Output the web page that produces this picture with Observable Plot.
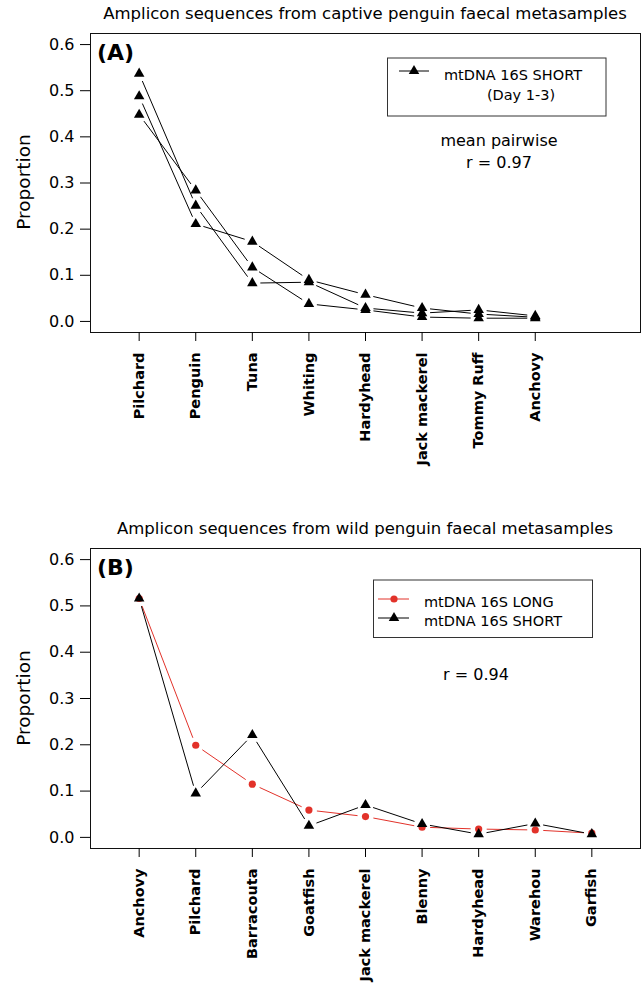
<!DOCTYPE html>
<html><head><meta charset="utf-8">
<script src="https://cdn.jsdelivr.net/npm/d3@7"></script>
<script src="https://cdn.jsdelivr.net/npm/@observablehq/plot@0.6"></script>
<style>
body{margin:0;background:#fff;font-family:"DejaVu Sans",sans-serif}
#chart svg{display:block;overflow:visible}
</style>
</head><body><div id="chart"></div>
<script>
// ---------- data ----------
const titleA = "Amplicon sequences from captive penguin faecal metasamples";
const titleB = "Amplicon sequences from wild penguin faecal metasamples";
const catsA = ["Pilchard","Penguin","Tuna","Whiting","Hardyhead","Jack mackerel","Tommy Ruff","Anchovy"];
const shortDay1 = [0.537, 0.251, 0.083, 0.085, 0.029, 0.018, 0.025, 0.012];
const shortDay2 = [0.488, 0.211, 0.173, 0.090, 0.058, 0.029, 0.016, 0.009];
const shortDay3 = [0.448, 0.284, 0.117, 0.038, 0.025, 0.0095, 0.007, 0.007];
const catsB = ["Anchovy","Pilchard","Barracouta","Goatfish","Jack mackerel","Blenny","Hardyhead","Warehou","Garfish"];
const longB  = [0.516, 0.199, 0.115, 0.059, 0.045, 0.022, 0.018, 0.016, 0.009];
const shortB = [0.516, 0.095, 0.221, 0.025, 0.070, 0.029, 0.007, 0.030, 0.007];
const yTicks = [0, 0.1, 0.2, 0.3, 0.4, 0.5, 0.6];
const rA = ["mean pairwise", "r = 0.97"];
const rB = ["r = 0.94"];

// ---------- layout ----------
const W = 643;
const xDomain = [0.14, 9.86];
const yDomain = [-0.024, 0.624];
const RED = "#e2322a";
const FONT = "DejaVu Sans";

function rows(vals, series) { return vals.map((v, k) => ({i: k + 1, v, series})); }
function gapped(vals, series, kx, ky, gap) {
  const out = [];
  for (let k = 0; k < vals.length - 1; k++) {
    const x1 = k + 1, x2 = k + 2, y1 = vals[k], y2 = vals[k + 1];
    const L = Math.hypot((x2 - x1) * kx, (y2 - y1) * ky);
    if (L <= 2 * gap) continue;
    const f = gap / L;
    out.push({series, x1: x1 + (x2 - x1) * f, y1: y1 + (y2 - y1) * f,
              x2: x2 - (x2 - x1) * f, y2: y2 - (y2 - y1) * f});
  }
  return out;
}

function panel({cats, height, mt, mb, seriesList}) {
  const ml = 90, mr = 3;
  const kx = (W - ml - mr) / (xDomain[1] - xDomain[0]);
  const ky = (height - mt - mb) / (yDomain[1] - yDomain[0]);
  const marks = [
    Plot.frame({stroke: "#111"}),
    Plot.axisY({ticks: yTicks, tickFormat: d3.format(".1f"), tickSize: 10, tickPadding: 6,
                fontSize: 16, label: null}),
    Plot.axisX({ticks: d3.range(1, cats.length + 1), tickFormat: i => cats[i - 1],
                tickRotate: -90, tickSize: 9, tickPadding: 11, fontSize: 14.5,
                fontWeight: "bold", label: null})
  ];
  for (const s of seriesList) {
    marks.push(Plot.link(gapped(s.vals, s.name, kx, ky, 8),
      {x1: "x1", y1: "y1", x2: "x2", y2: "y2", stroke: s.color, strokeWidth: 1}));
  }
  for (const s of seriesList) {
    marks.push(Plot.dot(rows(s.vals, s.name),
      {x: "i", y: "v", symbol: s.symbol, r: s.r, fill: s.color, stroke: "none"}));
  }
  return Plot.plot({
    width: W, height, marginLeft: ml, marginRight: mr, marginTop: mt, marginBottom: mb,
    style: {fontFamily: FONT, fontSize: "16px", color: "black", background: "white"},
    x: {type: "linear", domain: xDomain},
    y: {domain: yDomain},
    marks
  });
}

function addText(svg, x, y, txt, opts = {}) {
  return svg.append("text").attr("x", x).attr("y", y).text(txt)
    .attr("font-family", FONT).attr("font-size", opts.size || 15)
    .attr("font-weight", opts.weight || "normal")
    .attr("text-anchor", opts.anchor || "start")
    .attr("fill", opts.fill || "black")
    .attr("transform", opts.rotate ? `rotate(-90 ${x} ${y})` : null);
}

const root = document.getElementById("chart");

// ---------- Panel A ----------
const hA = 487;
const svgA = panel({cats: catsA, height: hA, mt: 33, mb: 155, seriesList: [
  {name: "Day 1", vals: shortDay1, color: "black", symbol: "triangle", r: 3.9},
  {name: "Day 2", vals: shortDay2, color: "black", symbol: "triangle", r: 3.9},
  {name: "Day 3", vals: shortDay3, color: "black", symbol: "triangle", r: 3.9}
]});
root.appendChild(svgA);
{
  const s = d3.select(svgA);
  addText(s, 365, 19, titleA, {size: 16.5, anchor: "middle"});
  addText(s, 97, 60, "(A)", {size: 22, weight: "bold"});
  addText(s, 30, 182, "Proportion", {size: 18.5, anchor: "middle", rotate: true});
  s.append("rect").attr("x", 387.5).attr("y", 58).attr("width", 218.5).attr("height", 58)
    .attr("fill", "white").attr("stroke", "#333");
  s.append("line").attr("x1", 399).attr("x2", 429).attr("y1", 71).attr("y2", 71).attr("stroke", "black");
  s.append("path").attr("d", d3.symbol(d3.symbolTriangle, Math.PI * 3.9 * 3.9)())
    .attr("transform", "translate(414,71)").attr("fill", "black");
  addText(s, 444, 80, "mtDNA 16S SHORT", {size: 14.5});
  addText(s, 521, 100, "(Day 1-3)", {size: 14.5, anchor: "middle"});
  addText(s, 499, 146, rA[0], {size: 16, anchor: "middle"});
  addText(s, 499, 168, rA[1], {size: 16, anchor: "middle"});
}

// ---------- Panel B ----------
const hB = 500;
const svgB = panel({cats: catsB, height: hB, mt: 61, mb: 139, seriesList: [
  {name: "mtDNA 16S LONG", vals: longB, color: RED, symbol: "circle", r: 3.6},
  {name: "mtDNA 16S SHORT", vals: shortB, color: "black", symbol: "triangle", r: 3.9}
]});
root.appendChild(svgB);
{
  const s = d3.select(svgB);
  addText(s, 365, 47, titleB, {size: 16.5, anchor: "middle"});
  addText(s, 97, 88, "(B)", {size: 22, weight: "bold"});
  addText(s, 30, 211, "Proportion", {size: 18.5, anchor: "middle", rotate: true});
  s.append("rect").attr("x", 373.5).attr("y", 93).attr("width", 219).attr("height", 57.5)
    .attr("fill", "white").attr("stroke", "#333");
  s.append("line").attr("x1", 378).attr("x2", 409).attr("y1", 112).attr("y2", 112).attr("stroke", RED);
  s.append("circle").attr("cx", 394).attr("cy", 112).attr("r", 3.6).attr("fill", RED);
  s.append("line").attr("x1", 378).attr("x2", 409).attr("y1", 131).attr("y2", 131).attr("stroke", "black");
  s.append("path").attr("d", d3.symbol(d3.symbolTriangle, Math.PI * 3.9 * 3.9)())
    .attr("transform", "translate(394,131)").attr("fill", "black");
  addText(s, 424, 120, "mtDNA 16S LONG", {size: 14.5});
  addText(s, 424, 139, "mtDNA 16S SHORT", {size: 14.5});
  addText(s, 476, 193, rB[0], {size: 16, anchor: "middle"});
}
</script>
</body></html>
